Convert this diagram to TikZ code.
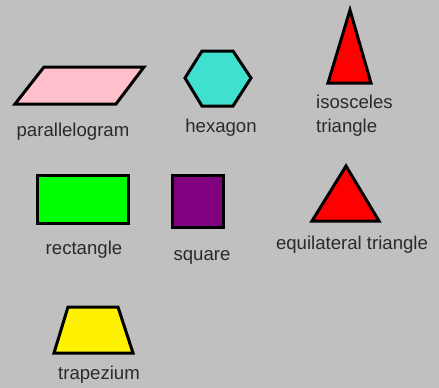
\documentclass[tikz,border=0pt]{standalone}
\usepackage{fontspec}
\setmainfont{Liberation Sans}
\definecolor{bg}{HTML}{C0C0C0}
\definecolor{txt}{HTML}{2A2A2A}
\definecolor{pinkfill}{HTML}{FFC0CB}
\definecolor{turq}{HTML}{40E0D0}
\definecolor{purp}{HTML}{800080}
\tikzset{
  shp/.style={draw=black, line width=3pt},
  lbl/.style={text=txt, font=\fontsize{18.6}{23.5}\selectfont, inner sep=0pt},
}
\begin{document}
\begin{tikzpicture}[x=1pt,y=-1pt]
\fill[bg] (0,0) rectangle (439,388);
\useasboundingbox (0,0) rectangle (439,388);
% parallelogram
\draw[shp, fill=pinkfill] (44,67) -- (144,67) -- (116,104) -- (15,104) -- cycle;
\node[lbl] (lpar) at (73,132) {parallelogram};
% hexagon
\draw[shp, fill=turq] (185,78) -- (202,51) -- (233,51) -- (251,78) -- (233,106) -- (202,106) -- cycle;
\node[lbl] (lhex) at (221,128) {hexagon};
% isosceles triangle
\draw[shp, fill=red] (350,10) -- (371,83) -- (328,83) -- cycle;
\node[lbl, align=left, anchor=north west] (liso) at (316,95) {isosceles\\triangle};
% rectangle
\draw[shp, fill=green] (37,175) rectangle (128,223);
\node[lbl] (lrect) at (84,250) {rectangle};
% square
\draw[shp, fill=purp] (172,175) rectangle (223,227);
\node[lbl] (lsq) at (202,257) {square};
% equilateral triangle
\draw[shp, fill=red] (346,166) -- (379,221) -- (312,221) -- cycle;
\node[lbl] (lequ) at (352,245) {equilateral triangle};
% trapezium
\draw[shp, fill=yellow] (68,307) -- (118,307) -- (133,353) -- (54,353) -- cycle;
\node[lbl] (ltrap) at (99,375) {trapezium};
\end{tikzpicture}
\end{document}
